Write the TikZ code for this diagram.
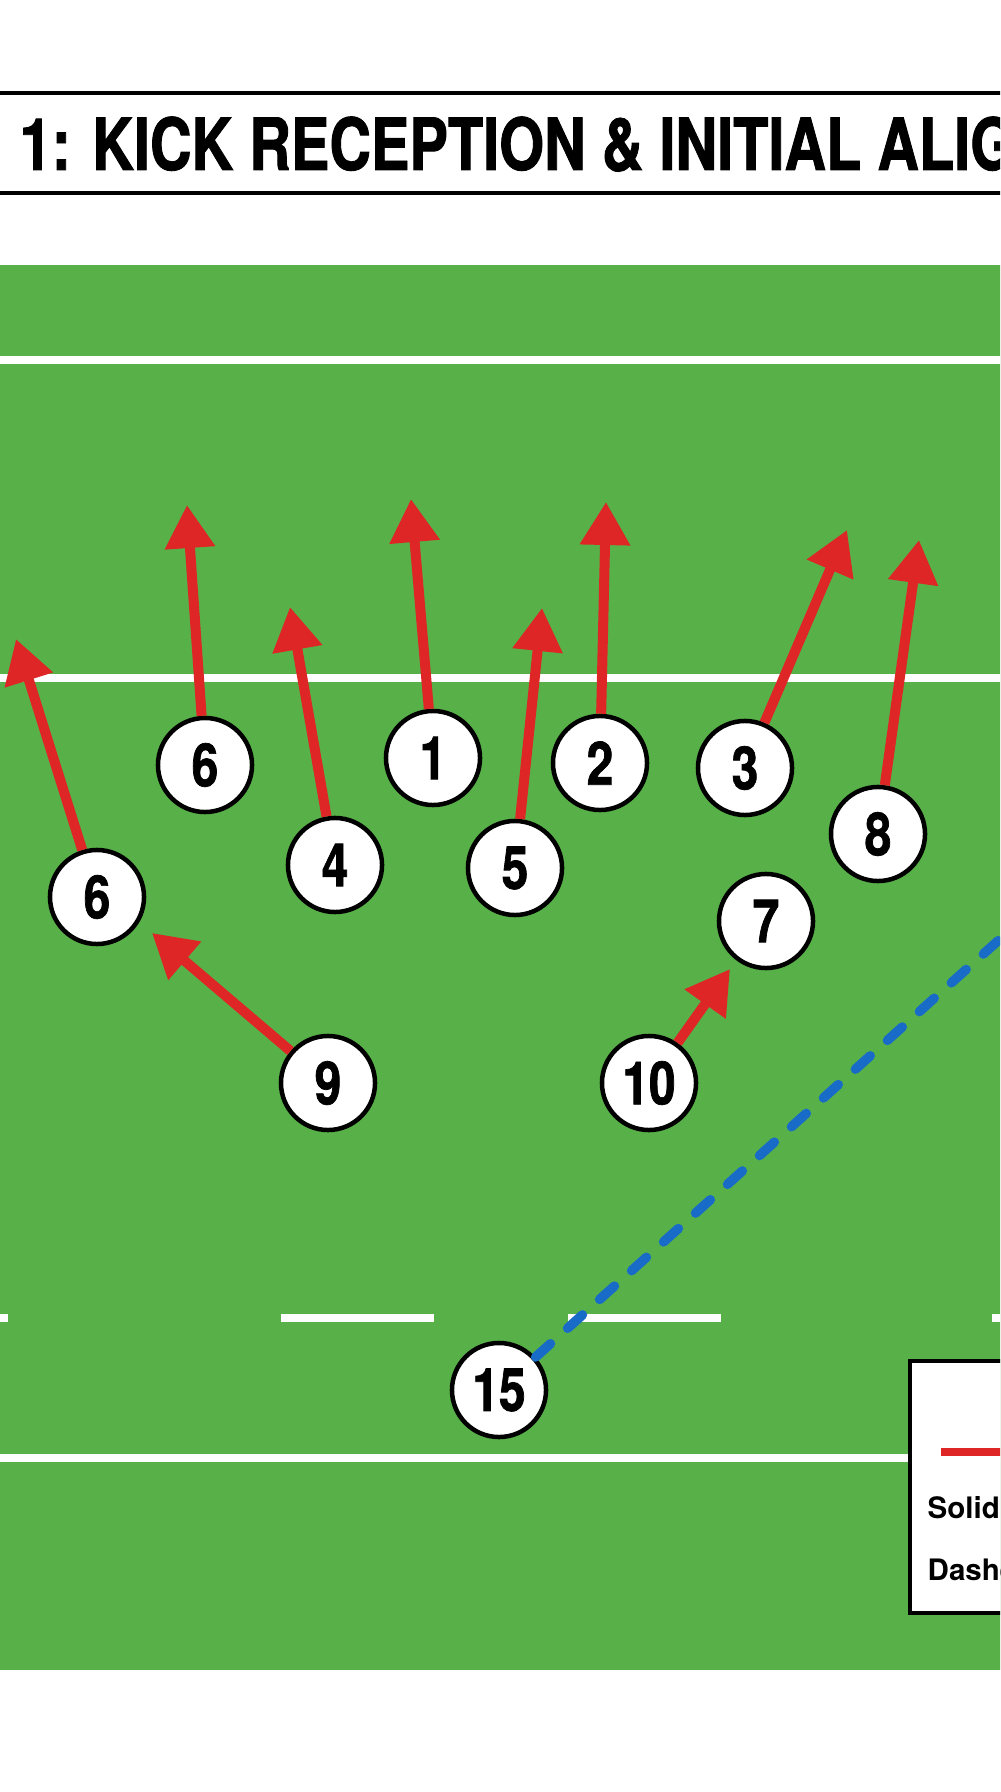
\documentclass[tikz,border=0pt]{standalone}
\usepackage{fontspec}
\setmainfont{TeX Gyre Heros}
\newfontfamily\condfont[FakeStretch=0.8,BoldFeatures={FakeBold=1.2}]{TeX Gyre Heros}
\usetikzlibrary{arrows.meta}
\definecolor{pitch}{RGB}{88,176,72}
\definecolor{runred}{RGB}{222,38,38}
\definecolor{passblue}{RGB}{24,108,200}

\begin{document}
\begin{tikzpicture}[x=0.01cm,y=-0.01cm,
        player/.style={circle,draw=black,line width=0.045cm,fill=white,minimum size=0.94cm,inner sep=0pt,
            font=\condfont\bfseries\fontsize{17pt}{17pt}\selectfont},
        run/.style={draw=runred,line width=0.1cm,-{Triangle[length=0.43cm,width=0.48cm]}},
        pass/.style={draw=passblue,line width=0.095cm,line cap=round,dash pattern=on 0.2cm off 0.23cm},
        pitchline/.style={draw=white,line width=0.08cm},
        keytext/.style={anchor=base west,inner sep=0pt,font=\bfseries\fontsize{8.4pt}{10pt}\selectfont}]
        \useasboundingbox (0,0) rectangle (1000,1792);
        \clip (0,0) rectangle (1000,1792);
        \fill[white] (0,0) rectangle (1000,1792);
        \draw[line width=0.04cm] (-10,93) rectangle (1100,193);
        \node[anchor=base west,inner sep=0pt,font=\condfont\bfseries\fontsize{20.5pt}{24pt}\selectfont] (title) at (19,170) {1: KICK RECEPTION \& INITIAL ALIGNMENT};
        \fill[pitch] (-10,265) rectangle (1010,1670);
        \draw[pitchline] (-10,360) -- (1010,360);
        \draw[pitchline] (-10,678) -- (1010,678);
        \draw[pitchline] (-10,1458) -- (1010,1458);
        \foreach \a/\b in {-150/8,281/434,568/721,992/1145}
            \draw[pitchline] (\a,1318) -- (\b,1318);
        \node[player] (p6a) at (205,765) {6};
        \node[player] (p6b) at (97,897) {6};
        \node[player] (p4) at (335,865) {4};
        \node[player] (p1) at (433,758) {1};
        \node[player] (p5) at (515,868) {5};
        \node[player] (p2) at (600,763) {2};
        \node[player] (p3) at (745,768) {3};
        \node[player] (p8) at (878,834) {8};
        \node[player] (p7) at (766,921) {7};
        \node[player] (p9) at (328,1083) {9};
        \node[player] (p10) at (649,1083) {10};
        \node[player] (p15) at (499,1390) {15};
        \coordinate (t6b) at (16,639);
        \coordinate (t6a) at (187,505);
        \coordinate (t4) at (290,607);
        \coordinate (t1) at (411,499);
        \coordinate (t5) at (542,608);
        \coordinate (t2) at (606,502);
        \coordinate (t3) at (847,530);
        \coordinate (t8) at (919,540);
        \coordinate (t10) at (730,969);
        \coordinate (t9) at (152,933);
        \coordinate (pe) at (1040,903);
        \foreach \p in {6b,6a,4,1,5,2,3,8,10,9}
            \draw[run] (p\p) -- (t\p);
        \draw[pass] (p15) -- (pe);
        \draw[fill=white,line width=0.035cm] (910,1361) rectangle (1100,1613);
        \draw[runred,line width=0.08cm] (941,1452) -- (1100,1452);
        \node[keytext] (ksolid) at (927,1518) {Solid};
        \node[keytext] (kdash) at (927,1580) {Dashed};
\end{tikzpicture}
\end{document}
